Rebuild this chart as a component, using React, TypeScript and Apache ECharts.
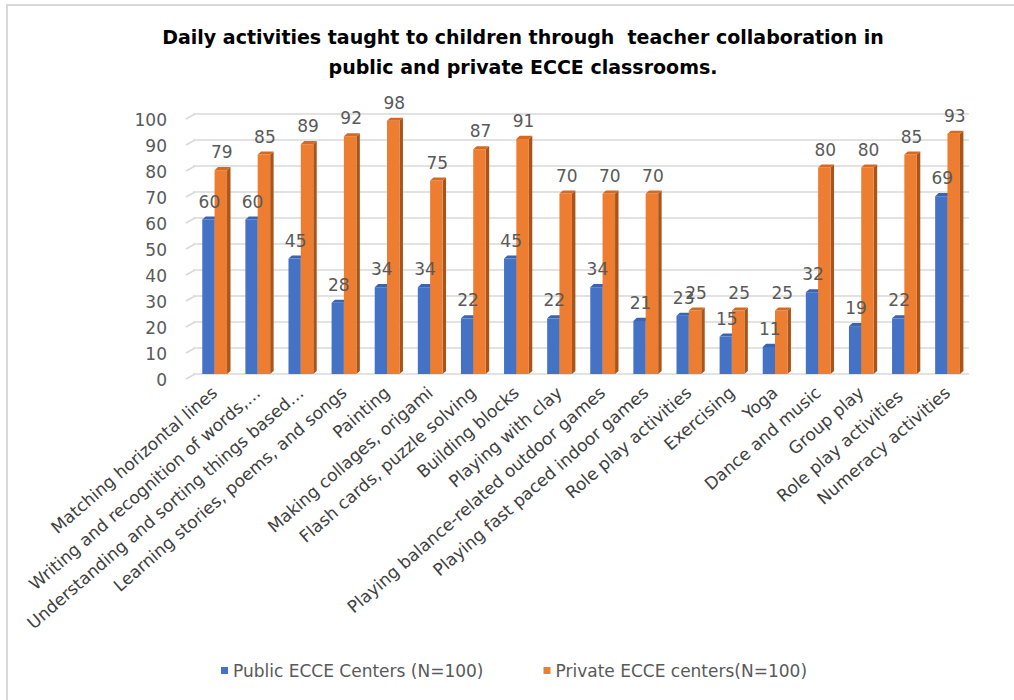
import React, { useEffect, useRef } from "react";
import * as echarts from "echarts";

const titleText =
  "Daily activities taught to children through  teacher collaboration in\npublic and private ECCE classrooms.";

const categories = [
  "Matching horizontal lines",
  "Writing and recognition of words,…",
  "Understanding and sorting things based…",
  "Learning stories, poems, and songs",
  "Painting",
  "Making collages, origami",
  "Flash cards, puzzle solving",
  "Building blocks",
  "Playing with clay",
  "Playing balance-related outdoor games",
  "Playing fast paced indoor games",
  "Role play activities",
  "Exercising",
  "Yoga",
  "Dance and music",
  "Group play",
  "Role play activities ",
  "Numeracy activities",
];

const seriesNames = ["Public ECCE Centers (N=100)", "Private ECCE centers(N=100)"];

const publicValues = [60, 60, 45, 28, 34, 34, 22, 45, 22, 34, 21, 23, 15, 11, 32, 19, 22, 69];
const privateValues = [79, 85, 89, 92, 98, 75, 87, 91, 70, 70, 70, 25, 25, 25, 80, 80, 85, 93];

const yTicks = [0, 10, 20, 30, 40, 50, 60, 70, 80, 90, 100];

const FONT = "'DejaVu Sans', sans-serif";

type Palette = { front: string; top: string; side: string };

const bluePal: Palette = { front: "#4472C4", top: "#3A64B0", side: "#2F5391" };
const orangePal: Palette = { front: "#ED7D31", top: "#D46A22", side: "#A9541B" };

const BLUE_SPAN: [number, number] = [-0.285, 0];
const ORANGE_SPAN: [number, number] = [0, 0.29];

function makeBarRender(span: [number, number], pal: Palette) {
  return (params: any, api: any) => {
    const idx = api.value(0);
    const v = api.value(1);
    const top = api.coord([idx, v]);
    const base = api.coord([idx, 0]);
    const band = api.size([1, 0])[0];
    const cx = top[0];
    const x0 = cx + span[0] * band;
    const x1 = cx + span[1] * band;
    const d = 0.08 * band;
    const h = d * 0.9;
    const yT = top[1] + h / 2;
    const yB = base[1];
    return {
      type: "group",
      children: [
        {
          type: "polygon",
          shape: { points: [[x1, yT], [x1 + d, yT - h], [x1 + d, yB - h], [x1, yB]] },
          style: { fill: pal.side },
        },
        {
          type: "rect",
          shape: { x: x0, y: yT, width: x1 - x0, height: Math.max(0, yB - yT) },
          style: { fill: pal.front },
        },
        {
          type: "polygon",
          shape: { points: [[x0, yT], [x0 + d, yT - h], [x1 + d, yT - h], [x1, yT]] },
          style: { fill: pal.top },
        },
      ],
    };
  };
}

function makeLabelRender(span: [number, number]) {
  return (params: any, api: any) => {
    const idx = api.value(0);
    const v = api.value(1);
    const top = api.coord([idx, v]);
    const band = api.size([1, 0])[0];
    const cx = top[0] + ((span[0] + span[1]) / 2) * band;
    return {
      type: "text",
      style: {
        text: String(v),
        x: cx + 1,
        y: top[1] - 8,
        align: "center",
        verticalAlign: "bottom",
        fontFamily: FONT,
        fontSize: 17,
        fill: "#595959",
      },
    };
  };
}

export default function App() {
  const ref = useRef<HTMLDivElement>(null);

  useEffect(() => {
    if (!ref.current) return;
    const chart = echarts.init(ref.current, undefined, { renderer: "svg" });
    const publicData = publicValues.map((v, i) => [i, v]);
    const privateData = privateValues.map((v, i) => [i, v]);
    const option: any = {
      animation: false,
      backgroundColor: "#ffffff",
      title: {
        text: titleText,
        left: 518,
        top: 17,
        textAlign: "center",
        textStyle: {
          fontFamily: FONT,
          fontSize: 19,
          fontWeight: "bold",
          color: "#000000",
          lineHeight: 30,
        },
      },
      graphic: [
        {
          type: "line",
          shape: { x1: 6, y1: 5, x2: 1014, y2: 5 },
          style: { stroke: "#d9d9d9", lineWidth: 2 },
        },
        {
          type: "line",
          shape: { x1: 7, y1: 5, x2: 7, y2: 700 },
          style: { stroke: "#d9d9d9", lineWidth: 2 },
        },
      ],
      legend: {
        data: seriesNames,
        left: 216,
        top: 657,
        icon: "rect",
        itemWidth: 7,
        itemHeight: 7,
        itemGap: 60,
        textStyle: { fontFamily: FONT, fontSize: 17, color: "#595959" },
      },
      grid: { left: 193, right: 45, top: 114, bottom: 326 },
      xAxis: {
        type: "category",
        data: categories,
        axisLine: { show: false },
        axisTick: { show: false },
        axisLabel: {
          interval: 0,
          rotate: 41,
          margin: 16,
          fontFamily: FONT,
          fontSize: 17,
          color: "#404040",
        },
      },
      yAxis: {
        type: "value",
        min: 0,
        max: 100,
        interval: 10,
        axisLine: { show: false },
        axisTick: { show: false },
        splitLine: { lineStyle: { color: "#d9d9d9", width: 1.5 } },
        axisLabel: {
          margin: 26,
          fontFamily: FONT,
          fontSize: 17,
          color: "#595959",
          verticalAlign: "top",
          lineHeight: 12,
        },
      },
      series: [
        {
          name: "gridStubs",
          type: "custom",
          silent: true,
          data: yTicks.map((t) => [0, t]),
          encode: { x: 0, y: 1 },
          renderItem: (params: any, api: any) => {
            const p = api.coord([0, api.value(1)]);
            const gx = params.coordSys.x;
            return {
              type: "line",
              shape: { x1: gx - 7, y1: p[1] + 5, x2: gx + 2, y2: p[1] },
              style: { stroke: "#d9d9d9", lineWidth: 1.5 },
            };
          },
          z: 1,
        },
        {
          name: seriesNames[0],
          type: "custom",
          itemStyle: { color: bluePal.front },
          data: publicData,
          encode: { x: 0, y: 1 },
          renderItem: makeBarRender(BLUE_SPAN, bluePal),
          z: 2,
        },
        {
          name: seriesNames[1],
          type: "custom",
          itemStyle: { color: orangePal.front },
          data: privateData,
          encode: { x: 0, y: 1 },
          renderItem: makeBarRender(ORANGE_SPAN, orangePal),
          z: 3,
        },
        {
          name: "publicLabels",
          type: "custom",
          silent: true,
          data: publicData,
          encode: { x: 0, y: 1 },
          renderItem: makeLabelRender(BLUE_SPAN),
          z: 10,
        },
        {
          name: "privateLabels",
          type: "custom",
          silent: true,
          data: privateData,
          encode: { x: 0, y: 1 },
          renderItem: makeLabelRender(ORANGE_SPAN),
          z: 10,
        },
      ],
    };
    chart.setOption(option);
    return () => chart.dispose();
  }, []);

  return (
    <div
      ref={ref}
      style={{ position: "fixed", left: 0, top: 0, width: 1014, height: 700 }}
    />
  );
}
